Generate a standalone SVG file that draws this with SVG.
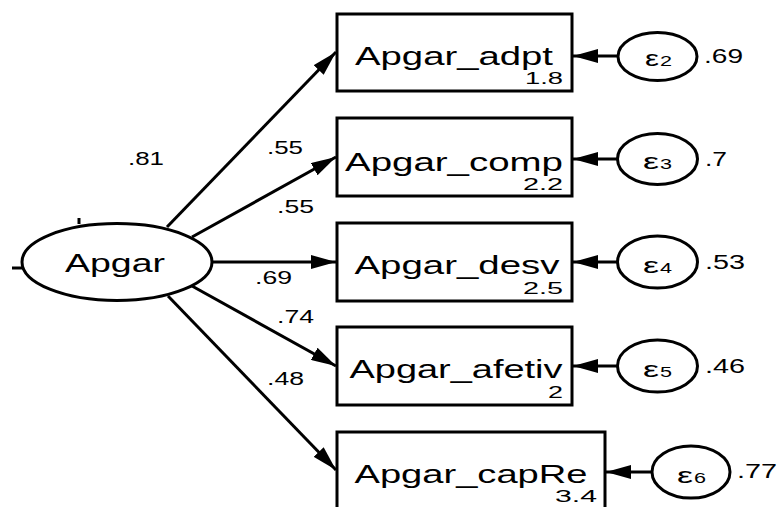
<svg xmlns="http://www.w3.org/2000/svg" width="779" height="507" viewBox="0 0 779 507">
  <style>
    .shape { fill: #ffffff; stroke: #000000; stroke-width: 3; }
    .edge { stroke: #000000; stroke-width: 3; fill: none; }
    text { font-family: "Liberation Sans", Arial, sans-serif; fill: #000000; }
    .var { font-size: 25px; text-anchor: middle; }
    .mean { font-size: 17px; text-anchor: end; }
    .coef { font-size: 19px; }
    .evar { font-size: 20px; }
    .eps { font-size: 22px; }
    .sub { font-size: 15px; }
  </style>
  <defs>
    <marker id="head" markerUnits="userSpaceOnUse" viewBox="0 0 25 14" refX="25" refY="7" markerWidth="25" markerHeight="14" orient="auto">
      <path d="M0,0 L25,7 L0,14 z" fill="#000000"/>
    </marker>
  </defs>

  <!-- connectors -->
  <g id="connectors">
    <!-- loadings from the latent factor -->
    <line class="edge" x1="167" y1="227" x2="336" y2="52" marker-end="url(#head)"/>
    <line class="edge" x1="192" y1="237" x2="336" y2="157" marker-end="url(#head)"/>
    <line class="edge" x1="212" y1="262" x2="336" y2="262" marker-end="url(#head)"/>
    <line class="edge" x1="192" y1="286" x2="336" y2="366" marker-end="url(#head)"/>
    <line class="edge" x1="168" y1="296" x2="336" y2="470" marker-end="url(#head)"/>
    <!-- error terms into indicators -->
    <line class="edge" x1="618" y1="56" x2="573" y2="56" marker-end="url(#head)"/>
    <line class="edge" x1="618" y1="159" x2="573" y2="159" marker-end="url(#head)"/>
    <line class="edge" x1="618" y1="262" x2="573" y2="262" marker-end="url(#head)"/>
    <line class="edge" x1="618" y1="366" x2="573" y2="366" marker-end="url(#head)"/>
    <line class="edge" x1="652" y1="472" x2="606" y2="472" marker-end="url(#head)"/>
    <!-- stubs on the latent factor -->
    <line class="edge" x1="79" y1="218" x2="79" y2="224"/>
    <line class="edge" x1="12" y1="268" x2="23" y2="268"/>
    <!-- path coefficients -->
    <text class="coef" x="128" y="165" textLength="36" lengthAdjust="spacingAndGlyphs">.81</text>
    <text class="coef" x="267" y="154" textLength="36" lengthAdjust="spacingAndGlyphs">.55</text>
    <text class="coef" x="277" y="213" textLength="37" lengthAdjust="spacingAndGlyphs">.55</text>
    <text class="coef" x="255" y="284" textLength="37" lengthAdjust="spacingAndGlyphs">.69</text>
    <text class="coef" x="277" y="323" textLength="37" lengthAdjust="spacingAndGlyphs">.74</text>
    <text class="coef" x="267" y="385" textLength="37" lengthAdjust="spacingAndGlyphs">.48</text>
  </g>

  <!-- latent factor -->
  <g id="Apgar">
    <ellipse class="shape" cx="117" cy="262" rx="95" ry="38.5"/>
    <text x="115" y="272" font-size="26" text-anchor="middle" textLength="100" lengthAdjust="spacingAndGlyphs">Apgar</text>
  </g>

  <!-- observed indicators -->
  <g id="Apgar_adpt">
    <rect class="shape" x="337" y="14" width="235" height="77"/>
    <text class="var" x="454" y="65" textLength="198" lengthAdjust="spacingAndGlyphs">Apgar_adpt</text>
    <text class="mean" x="563" y="84" textLength="38" lengthAdjust="spacingAndGlyphs">1.8</text>
  </g>
  <g id="Apgar_comp">
    <rect class="shape" x="337" y="118" width="235" height="78"/>
    <text class="var" x="454" y="171" textLength="218" lengthAdjust="spacingAndGlyphs">Apgar_comp</text>
    <text class="mean" x="563" y="190" textLength="40" lengthAdjust="spacingAndGlyphs">2.2</text>
  </g>
  <g id="Apgar_desv">
    <rect class="shape" x="337" y="223" width="235" height="78"/>
    <text class="var" x="457" y="274" textLength="205" lengthAdjust="spacingAndGlyphs">Apgar_desv</text>
    <text class="mean" x="563" y="294" textLength="40" lengthAdjust="spacingAndGlyphs">2.5</text>
  </g>
  <g id="Apgar_afetiv">
    <rect class="shape" x="337" y="327" width="235" height="78"/>
    <text class="var" x="456" y="378" textLength="213" lengthAdjust="spacingAndGlyphs">Apgar_afetiv</text>
    <text class="mean" x="563" y="398" textLength="15" lengthAdjust="spacingAndGlyphs">2</text>
  </g>
  <g id="Apgar_capRe">
    <rect class="shape" x="337" y="432" width="268" height="80"/>
    <text class="var" x="471" y="483" textLength="233" lengthAdjust="spacingAndGlyphs">Apgar_capRe</text>
    <text class="mean" x="597" y="502" textLength="42" lengthAdjust="spacingAndGlyphs">3.4</text>
  </g>

  <!-- error terms -->
  <g id="e2">
    <ellipse class="shape" cx="657.5" cy="56.5" rx="39.5" ry="24"/>
    <text class="eps" x="645" y="66" textLength="14" lengthAdjust="spacingAndGlyphs">ε</text>
    <text class="sub" x="660" y="66" textLength="12" lengthAdjust="spacingAndGlyphs">2</text>
    <text class="evar" x="704" y="63" textLength="39" lengthAdjust="spacingAndGlyphs">.69</text>
  </g>
  <g id="e3">
    <ellipse class="shape" cx="657.5" cy="159" rx="40" ry="25.5"/>
    <text class="eps" x="643" y="169" textLength="16" lengthAdjust="spacingAndGlyphs">ε</text>
    <text class="sub" x="660" y="169" textLength="12" lengthAdjust="spacingAndGlyphs">3</text>
    <text class="evar" x="705" y="166" textLength="22" lengthAdjust="spacingAndGlyphs">.7</text>
  </g>
  <g id="e4">
    <ellipse class="shape" cx="657.5" cy="262" rx="40" ry="26"/>
    <text class="eps" x="643" y="273" textLength="16" lengthAdjust="spacingAndGlyphs">ε</text>
    <text class="sub" x="660" y="273" textLength="12" lengthAdjust="spacingAndGlyphs">4</text>
    <text class="evar" x="705" y="269" textLength="40" lengthAdjust="spacingAndGlyphs">.53</text>
  </g>
  <g id="e5">
    <ellipse class="shape" cx="657.5" cy="366" rx="40" ry="26"/>
    <text class="eps" x="643" y="377" textLength="16" lengthAdjust="spacingAndGlyphs">ε</text>
    <text class="sub" x="660" y="377" textLength="12" lengthAdjust="spacingAndGlyphs">5</text>
    <text class="evar" x="705" y="373" textLength="40" lengthAdjust="spacingAndGlyphs">.46</text>
  </g>
  <g id="e6">
    <ellipse class="shape" cx="691" cy="472" rx="39" ry="26"/>
    <text class="eps" x="677" y="483" textLength="16" lengthAdjust="spacingAndGlyphs">ε</text>
    <text class="sub" x="694" y="483" textLength="12" lengthAdjust="spacingAndGlyphs">6</text>
    <text class="evar" x="737" y="478" textLength="40" lengthAdjust="spacingAndGlyphs">.77</text>
  </g>
</svg>
